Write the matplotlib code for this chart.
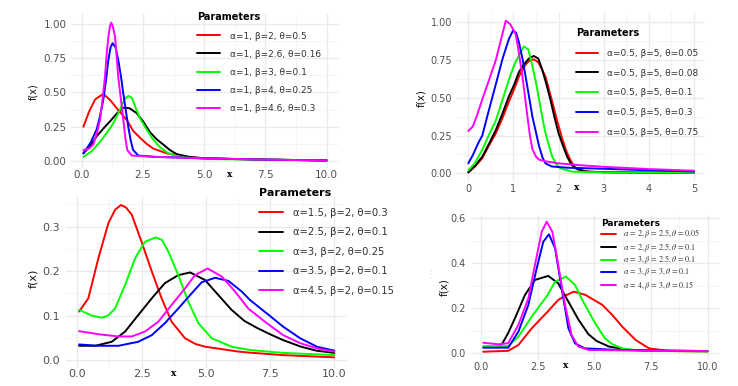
import matplotlib
matplotlib.use('Agg')
import matplotlib.pyplot as plt
from matplotlib.ticker import FixedLocator

W, H, DPI = 738, 386, 100
plt.rcParams['font.family'] = ['DejaVu Sans']
plt.rcParams['mathtext.fontset'] = 'stix'

# ---------------- data: panel 1 (top-left) ----------------
p1_labels = ["α=1, β=2, θ=0.5", "α=1, β=2.6, θ=0.16", "α=1, β=3, θ=0.1",
             "α=1, β=4, θ=0.25", "α=1, β=4.6, θ=0.3"]
p1_red_x = [0.07, 0.3, 0.55, 0.88, 1.16, 1.5, 1.84, 2.1, 2.38, 2.65, 2.93, 3.47, 4.29, 5.0, 6.0, 7.5, 8.8, 10.0]
p1_red_y = [0.25, 0.36, 0.45, 0.49, 0.445, 0.37, 0.30, 0.22, 0.17, 0.125, 0.09, 0.056, 0.027, 0.02, 0.015, 0.01, 0.007, 0.004]
p1_blk_x = [0.07, 0.35, 0.61, 0.9, 1.16, 1.45, 1.7, 1.95, 2.24, 2.5, 2.79, 3.05, 3.33, 3.6, 3.88, 4.4, 5.0, 6.0, 7.5, 8.8, 10.0]
p1_blk_y = [0.056, 0.11, 0.18, 0.24, 0.29, 0.35, 0.39, 0.385, 0.35, 0.29, 0.21, 0.16, 0.12, 0.08, 0.05, 0.03, 0.02, 0.015, 0.01, 0.007, 0.004]
p1_grn_x = [0.07, 0.4, 0.75, 1.0, 1.29, 1.55, 1.75, 1.9, 2.05, 2.2, 2.38, 2.65, 2.9, 3.2, 3.5, 3.8, 4.2, 5.0, 6.0, 7.5, 10.0]
p1_grn_y = [0.03, 0.07, 0.14, 0.2, 0.275, 0.37, 0.45, 0.475, 0.46, 0.39, 0.31, 0.23, 0.16, 0.10, 0.06, 0.04, 0.025, 0.015, 0.012, 0.01, 0.005]
p1_blu_x = [0.07, 0.35, 0.61, 0.75, 0.88, 1.0, 1.09, 1.18, 1.26, 1.38, 1.49, 1.6, 1.7, 1.8, 1.9, 2.0, 2.1, 2.31, 3.0, 5.0, 7.5, 10.0]
p1_blu_y = [0.056, 0.13, 0.23, 0.33, 0.445, 0.6, 0.74, 0.83, 0.86, 0.83, 0.74, 0.62, 0.49, 0.37, 0.25, 0.15, 0.08, 0.04, 0.03, 0.02, 0.01, 0.004]
p1_mag_x = [0.07, 0.3, 0.47, 0.6, 0.75, 0.85, 0.95, 1.02, 1.09, 1.15, 1.2, 1.26, 1.36, 1.42, 1.49, 1.6, 1.7, 1.78, 1.86, 2.04, 3.0, 5.0, 7.5, 10.0]
p1_mag_y = [0.08, 0.09, 0.12, 0.19, 0.30, 0.45, 0.615, 0.78, 0.91, 0.98, 1.01, 0.99, 0.91, 0.78, 0.615, 0.45, 0.30, 0.17, 0.08, 0.04, 0.03, 0.02, 0.01, 0.004]

# ---------------- data: panel 2 (top-right) ----------------
p2_labels = ["α=0.5, β=5, θ=0.05", "α=0.5, β=5, θ=0.08", "α=0.5, β=5, θ=0.1",
             "α=0.5, β=5, θ=0.3", "α=0.5, β=5, θ=0.75"]
p2_red_x = [0.0, 0.15, 0.31, 0.45, 0.61, 0.75, 0.9, 1.02, 1.12, 1.26, 1.35, 1.45, 1.55, 1.63, 1.71, 1.8, 1.89, 1.98, 2.08, 2.17, 2.26, 2.35, 2.45, 2.7, 3.0, 4.0, 5.0]
p2_red_y = [0.005, 0.045, 0.10, 0.18, 0.265, 0.36, 0.475, 0.56, 0.64, 0.717, 0.745, 0.755, 0.735, 0.69, 0.64, 0.54, 0.44, 0.335, 0.23, 0.15, 0.088, 0.045, 0.022, 0.01, 0.007, 0.005, 0.004]
p2_blk_x = [0.0, 0.15, 0.31, 0.45, 0.61, 0.75, 0.9, 1.02, 1.12, 1.23, 1.34, 1.45, 1.55, 1.64, 1.73, 1.82, 1.91, 2.0, 2.1, 2.19, 2.28, 2.37, 2.6, 3.0, 4.0, 5.0]
p2_blk_y = [0.007, 0.05, 0.11, 0.19, 0.287, 0.39, 0.51, 0.59, 0.67, 0.72, 0.76, 0.777, 0.76, 0.684, 0.59, 0.486, 0.37, 0.265, 0.18, 0.11, 0.06, 0.033, 0.012, 0.007, 0.005, 0.004]
p2_grn_x = [0.0, 0.15, 0.31, 0.45, 0.61, 0.75, 0.9, 1.02, 1.12, 1.23, 1.33, 1.42, 1.5, 1.57, 1.64, 1.71, 1.79, 1.86, 1.95, 2.04, 2.3, 3.0, 4.0, 5.0]
p2_grn_y = [0.018, 0.07, 0.155, 0.25, 0.35, 0.48, 0.62, 0.72, 0.78, 0.84, 0.82, 0.71, 0.60, 0.486, 0.37, 0.265, 0.18, 0.11, 0.06, 0.033, 0.011, 0.006, 0.005, 0.004]
p2_blu_x = [0.0, 0.1, 0.22, 0.31, 0.44, 0.61, 0.76, 0.9, 0.99, 1.06, 1.12, 1.2, 1.27, 1.35, 1.42, 1.5, 1.57, 1.65, 1.71, 1.85, 2.2, 3.0, 4.0, 5.0]
p2_blu_y = [0.066, 0.12, 0.20, 0.25, 0.40, 0.59, 0.76, 0.89, 0.945, 0.93, 0.87, 0.76, 0.64, 0.50, 0.375, 0.27, 0.177, 0.10, 0.066, 0.045, 0.037, 0.03, 0.02, 0.012]
p2_mag_x = [0.0, 0.1, 0.2, 0.31, 0.45, 0.61, 0.72, 0.83, 0.92, 1.0, 1.05, 1.12, 1.2, 1.3, 1.36, 1.42, 1.5, 1.57, 1.7, 2.0, 2.5, 3.0, 4.0, 5.0]
p2_mag_y = [0.28, 0.31, 0.39, 0.49, 0.61, 0.75, 0.88, 1.01, 0.99, 0.95, 0.92, 0.80, 0.64, 0.40, 0.26, 0.16, 0.11, 0.09, 0.08, 0.066, 0.053, 0.043, 0.028, 0.017]

# ---------------- data: panel 3 (bottom-left) ----------------
p3_labels = ["α=1.5, β=2, θ=0.3", "α=2.5, β=2, θ=0.1", "α=3, β=2, θ=0.25",
             "α=3.5, β=2, θ=0.1", "α=4.5, β=2, θ=0.15"]
p3_red_x = [0.07, 0.43, 0.82, 1.21, 1.47, 1.70, 1.9, 2.12, 2.5, 2.9, 3.28, 3.67, 4.19, 4.6, 4.97, 6.26, 6.72, 8.0, 10.0]
p3_red_y = [0.109, 0.139, 0.229, 0.308, 0.338, 0.349, 0.343, 0.327, 0.266, 0.199, 0.139, 0.086, 0.049, 0.036, 0.030, 0.019, 0.0165, 0.011, 0.006]
p3_blk_x = [0.07, 0.7, 1.34, 1.86, 2.37, 2.9, 3.41, 3.93, 4.39, 4.97, 5.49, 6.0, 6.5, 7.0, 7.5, 8.0, 8.7, 9.3, 10.0]
p3_blk_y = [0.032, 0.032, 0.041, 0.064, 0.101, 0.139, 0.173, 0.191, 0.197, 0.18, 0.146, 0.113, 0.088, 0.072, 0.058, 0.045, 0.03, 0.021, 0.016]
p3_grn_x = [0.07, 0.56, 0.95, 1.2, 1.47, 1.86, 2.25, 2.63, 3.05, 3.3, 3.54, 3.93, 4.32, 4.71, 5.23, 6.0, 6.72, 8.0, 10.0]
p3_grn_y = [0.113, 0.10, 0.095, 0.10, 0.116, 0.169, 0.229, 0.266, 0.276, 0.27, 0.244, 0.191, 0.131, 0.083, 0.049, 0.03, 0.0225, 0.016, 0.011]
p3_blu_x = [0.07, 0.8, 1.6, 2.37, 2.9, 3.41, 3.93, 4.45, 4.84, 5.36, 5.88, 6.4, 6.72, 7.37, 8.01, 8.67, 9.32, 10.0]
p3_blu_y = [0.035, 0.032, 0.032, 0.041, 0.056, 0.083, 0.116, 0.150, 0.175, 0.185, 0.178, 0.154, 0.135, 0.105, 0.075, 0.049, 0.030, 0.021]
p3_mag_x = [0.07, 0.82, 1.6, 2.12, 2.63, 3.15, 3.67, 4.19, 4.58, 5.07, 5.62, 6.14, 6.65, 7.37, 8.01, 8.67, 9.32, 10.0]
p3_mag_y = [0.065, 0.058, 0.053, 0.053, 0.064, 0.086, 0.124, 0.161, 0.191, 0.206, 0.188, 0.154, 0.116, 0.083, 0.056, 0.038, 0.026, 0.019]

# ---------------- data: panel 4 (bottom-right) ----------------
p4_labels = [r"$\alpha\,=\,2,\beta\,=\,2.5,\theta\,=\,0.05$",
             r"$\alpha\,=\,2,\beta\,=\,2.5,\theta\,=\,0.1$",
             r"$\alpha\,=\,3,\beta\,=\,2.5,\theta\,=\,0.1$",
             r"$\alpha\,=\,3,\beta\,=\,3,\theta\,=\,0.1$",
             r"$\alpha\,=\,4,\beta\,=\,3,\theta\,=\,0.15$"]
p4_red_x = [0.1, 1.2, 1.65, 2.24, 2.94, 3.41, 3.71, 4.1, 4.6, 5.36, 5.8, 6.24, 6.83, 7.42, 8.3, 10.0]
p4_red_y = [0.007, 0.011, 0.037, 0.111, 0.185, 0.237, 0.256, 0.274, 0.26, 0.215, 0.17, 0.118, 0.059, 0.022, 0.01, 0.008]
p4_blk_x = [0.79, 0.95, 1.2, 1.5, 1.94, 2.38, 2.97, 3.41, 3.86, 4.3, 4.74, 5.1, 5.65, 6.5, 7.5, 10.0]
p4_blk_y = [0.029, 0.045, 0.09, 0.156, 0.259, 0.326, 0.344, 0.311, 0.229, 0.15, 0.085, 0.055, 0.03, 0.015, 0.012, 0.01]
p4_grn_x = [0.1, 1.2, 1.65, 2.24, 2.94, 3.27, 3.75, 4.15, 4.47, 5.06, 5.47, 5.8, 6.24, 7.0, 10.0]
p4_grn_y = [0.032, 0.032, 0.074, 0.163, 0.259, 0.318, 0.341, 0.304, 0.237, 0.13, 0.067, 0.04, 0.022, 0.012, 0.008]
p4_blu_x = [0.1, 1.2, 1.65, 2.09, 2.46, 2.75, 3.0, 3.27, 3.56, 3.86, 4.15, 4.59, 6.0, 8.0, 10.0]
p4_blu_y = [0.025, 0.025, 0.096, 0.215, 0.378, 0.496, 0.529, 0.467, 0.289, 0.111, 0.044, 0.022, 0.015, 0.012, 0.01]
p4_mag_x = [0.1, 0.76, 1.2, 1.65, 2.09, 2.38, 2.68, 2.9, 3.15, 3.41, 3.71, 4.0, 4.3, 4.74, 7.0, 10.0]
p4_mag_y = [0.047, 0.04, 0.045, 0.126, 0.244, 0.392, 0.54, 0.585, 0.54, 0.392, 0.215, 0.081, 0.03, 0.015, 0.012, 0.01]

COLORS = ['#FF0000', '#000000', '#00FF00', '#0000FF', '#FF00FF']
GRID = '#EBEBEB'
TICKC = '#505050'

fig = plt.figure(figsize=(W / DPI, H / DPI), dpi=DPI)


def add_panel(xmap, ymap, xlim, ylim):
    pxa, va, pxb, vb = xmap
    sx = (pxb - pxa) / (vb - va)
    left = pxa + (xlim[0] - va) * sx
    right = pxa + (xlim[1] - va) * sx
    pya, wa, pyb, wb = ymap
    sy = (pyb - pya) / (wb - wa)
    bottom = pya + (ylim[0] - wa) * sy
    top = pya + (ylim[1] - wa) * sy
    ax = fig.add_axes([left / W, 1 - bottom / H, (right - left) / W, (bottom - top) / H])
    ax.set_xlim(xlim)
    ax.set_ylim(ylim)
    for s in ax.spines.values():
        s.set_visible(False)
    ax.set_axisbelow(True)
    return ax


def style(ax, xt, xtl, xminor, yt, ytl, yminor, fs, xpad, ypad):
    ax.set_xticks(xt)
    ax.set_xticklabels(xtl)
    ax.set_yticks(yt)
    ax.set_yticklabels(ytl)
    ax.xaxis.set_minor_locator(FixedLocator(xminor))
    ax.yaxis.set_minor_locator(FixedLocator(yminor))
    ax.tick_params(which='both', length=0, labelsize=fs, colors=TICKC)
    ax.tick_params(axis='x', pad=xpad)
    ax.tick_params(axis='y', pad=ypad)
    ax.grid(which='major', color=GRID, lw=1.0)
    ax.grid(which='minor', color='#F3F3F3', lw=0.6)


def curves(ax, xs, ys):
    for x, y, c in zip(xs, ys, COLORS):
        ax.plot(x, y, color=c, lw=1.4, solid_capstyle='round', solid_joinstyle='round')


def legend(ax, labels, x_px, y_px, fs, tfs, hl_px, gap_px, row_px, th):
    fpx = fs * DPI / 72
    ax.legend(ax.get_lines(), labels, title='Parameters', loc='upper left',
              bbox_to_anchor=(x_px / W, 1 - y_px / H), bbox_transform=fig.transFigure,
              frameon=False, fontsize=fs,
              title_fontproperties={'weight': 'bold', 'size': tfs},
              handlelength=hl_px / fpx, handletextpad=gap_px / fpx,
              labelspacing=max(row_px - th * fpx, 0) / fpx,
              borderpad=0, borderaxespad=0, alignment='left', labelcolor='#333333')


def flab(x_px, y_px, txt, fs, **kw):
    fig.text(x_px / W, 1 - y_px / H, txt, fontsize=fs, ha='center', va='center', **kw)


# ---------------- panel 1 ----------------
ax1 = add_panel((81.7, 0, 326.7, 10), (161, 0, 24, 1), (-0.45, 10.5), (-0.05, 1.07))
style(ax1, [0, 2.5, 5, 7.5, 10], ['0.0', '2.5', '5.0', '7.5', '10.0'], [1.25, 3.75, 6.25, 8.75],
      [0, 0.25, 0.5, 0.75, 1.0], ['0.00', '0.25', '0.50', '0.75', '1.00'], [0.125, 0.375, 0.625, 0.875],
      7.5, 1.5, 3)
curves(ax1, [p1_red_x, p1_blk_x, p1_grn_x, p1_blu_x, p1_mag_x],
       [p1_red_y, p1_blk_y, p1_grn_y, p1_blu_y, p1_mag_y])
legend(ax1, p1_labels, 197, 12.5, 6.5, 7, 23, 10, 18, 0.99)
flab(230, 174, 'x', 6.5, family='DejaVu Serif', weight='bold')
flab(33, 92, 'f(x)', 7, rotation=90, color='#111111')

# ---------------- panel 2 ----------------
ax2 = add_panel((468.3, 0, 694, 5), (173.3, 0, 22.3, 1), (-0.25, 5.25), (-0.051, 1.07))
style(ax2, [0, 1, 2, 3, 4, 5], ['0', '1', '2', '3', '4', '5'], [0.5, 1.5, 2.5, 3.5, 4.5],
      [0, 0.25, 0.5, 0.75, 1.0], ['0.00', '0.25', '0.50', '0.75', '1.00'], [0.125, 0.375, 0.625, 0.875],
      7, 2, 3.5)
curves(ax2, [p2_red_x, p2_blk_x, p2_grn_x, p2_blu_x, p2_mag_x],
       [p2_red_y, p2_blk_y, p2_grn_y, p2_blu_y, p2_mag_y])
legend(ax2, p2_labels, 576, 28, 6.5, 7, 22, 9, 19.75, 0.99)
flab(577, 188, 'x', 6.5, family='DejaVu Serif', weight='bold')
flab(421, 98, 'f(x)', 7.5, rotation=90, color='#111111')

# ---------------- panel 3 ----------------
ax3 = add_panel((77.3, 0, 334.3, 10), (360, 0, 226.7, 0.3), (-0.45, 10.5), (-0.0175, 0.3675))
style(ax3, [0, 2.5, 5, 7.5, 10], ['0.0', '2.5', '5.0', '7.5', '10.0'], [1.25, 3.75, 6.25, 8.75],
      [0, 0.1, 0.2, 0.3], ['0.0', '0.1', '0.2', '0.3'], [0.05, 0.15, 0.25, 0.35],
      8, 1, 4)
curves(ax3, [p3_red_x, p3_blk_x, p3_grn_x, p3_blu_x, p3_mag_x],
       [p3_red_y, p3_blk_y, p3_grn_y, p3_blu_y, p3_mag_y])
legend(ax3, p3_labels, 259, 188.5, 7.2, 8, 24, 10, 19.3, 0.99)
flab(173.3, 373, 'x', 6.5, family='DejaVu Serif', weight='bold')
flab(33, 278, 'f(x)', 8, rotation=90, color='#111111')

# ---------------- panel 4 ----------------
ax4 = add_panel((481, 0, 707.5, 10), (353.3, 0, 218.3, 0.6), (-0.45, 10.5), (-0.029, 0.614))
style(ax4, [0, 2.5, 5, 7.5, 10], ['0.0', '2.5', '5.0', '7.5', '10.0'], [1.25, 3.75, 6.25, 8.75],
      [0, 0.2, 0.4, 0.6], ['0.0', '0.2', '0.4', '0.6'], [0.1, 0.3, 0.5],
      7, 1.5, 3.7)
curves(ax4, [p4_red_x, p4_blk_x, p4_grn_x, p4_blu_x, p4_mag_x],
       [p4_red_y, p4_blk_y, p4_grn_y, p4_blu_y, p4_mag_y])
legend(ax4, p4_labels, 601, 218.5, 5.8, 6.5, 15, 7, 12.7, 1.64)
flab(565.7, 365.7, 'x', 6.5, family='DejaVu Serif', weight='bold')
flab(444, 287, 'f(x)', 7.5, rotation=90, color='#111111')
flab(430, 275, '⋮', 6, color='#cfcfcf')

fig.savefig('out.png', dpi=DPI)
